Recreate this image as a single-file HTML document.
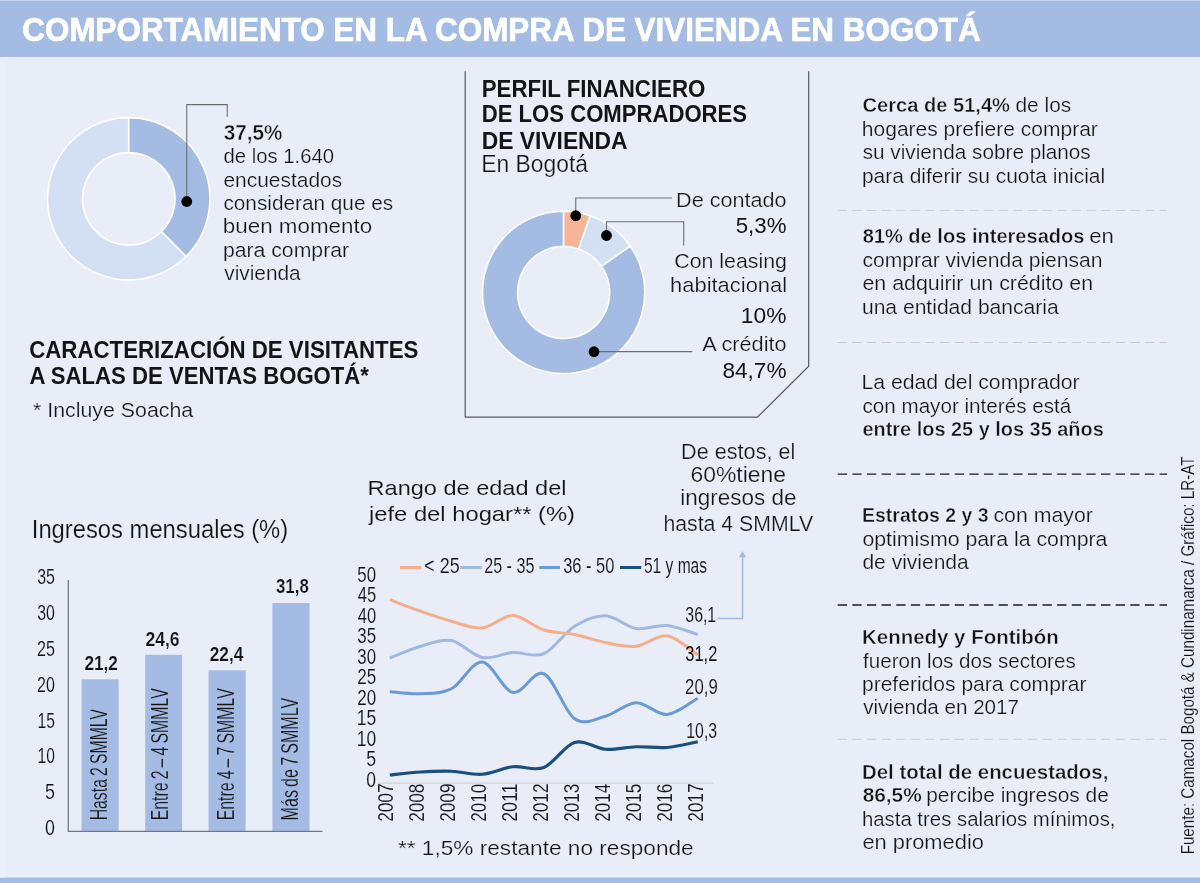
<!DOCTYPE html>
<html lang="es"><head><meta charset="utf-8"><title>Comportamiento en la compra de vivienda en Bogotá</title>
<style>
html,body{margin:0;padding:0;background:#e9edf8;}
body{width:1200px;height:883px;overflow:hidden;}
svg{display:block;will-change:transform;font-family:"Liberation Sans",sans-serif;}
text{white-space:pre;}
</style></head><body>
<svg width="1200" height="883" viewBox="0 0 1200 883">
<rect x="0" y="0" width="1200" height="883" fill="#e9edf8"/>
<rect x="0" y="0" width="1200" height="1" fill="#c5d4ee"/>
<rect x="0" y="1" width="1200" height="56" fill="#a4bce4"/>
<rect x="0" y="877.5" width="1200" height="6" fill="#a4bce4"/>
<rect x="0" y="57" width="1200" height="3" fill="#eeeef9"/>
<rect x="0" y="60" width="1200" height="2.5" fill="#e7eefb"/>
<rect x="0" y="62" width="5.5" height="815.5" fill="#ecf0fa"/>
<path d="M186.17,256.27 A81.2,81.2 0 1 1 128.75,117.65 L128.75,152.60 A46.25,46.25 0 1 0 161.45,231.55 Z" fill="#d3dff3" stroke="#ffffff" stroke-width="1.6" stroke-linejoin="round"/>
<path d="M128.75,117.65 A81.2,81.2 0 0 1 186.17,256.27 L161.45,231.55 A46.25,46.25 0 0 0 128.75,152.60 Z" fill="#a4bce4" stroke="#ffffff" stroke-width="1.6" stroke-linejoin="round"/>
<path d="M630.17,246.00 A81.15,81.15 0 1 1 563.63,211.30 L563.63,246.40 A46.05,46.05 0 1 0 601.39,266.09 Z" fill="#a4bce4" stroke="#ffffff" stroke-width="1.6" stroke-linejoin="round"/>
<path d="M563.63,211.30 A81.15,81.15 0 0 1 590.16,215.76 L578.68,248.93 A46.05,46.05 0 0 0 563.63,246.40 Z" fill="#f5b596" stroke="#ffffff" stroke-width="1.6" stroke-linejoin="round"/>
<path d="M590.16,215.76 A81.15,81.15 0 0 1 630.17,246.00 L601.39,266.09 A46.05,46.05 0 0 0 578.68,248.93 Z" fill="#d3dff3" stroke="#ffffff" stroke-width="1.6" stroke-linejoin="round"/>
<path d="M186.75,201.5 V104.6 H227.25 V116.75" fill="none" stroke="#6d6e70" stroke-width="1.1"/>
<circle cx="186.75" cy="201.5" r="5.4" fill="#000"/>
<path d="M575.75,215.75 V198 H672" fill="none" stroke="#6d6e70" stroke-width="1.1"/>
<circle cx="575.75" cy="215.75" r="5.4" fill="#000"/>
<path d="M606.5,235.5 V221.75 H683.75 V245.5" fill="none" stroke="#6d6e70" stroke-width="1.1"/>
<circle cx="606.5" cy="235.5" r="5.4" fill="#000"/>
<path d="M594,351.6 H692.3" fill="none" stroke="#6d6e70" stroke-width="1.1"/>
<circle cx="594" cy="351.75" r="5.4" fill="#000"/>
<path d="M465.2,71.2 V417.2 H757.4 L808.7,366.3 V71.2" fill="none" stroke="#58595b" stroke-width="1.2"/>
<rect x="81.5" y="679.3" width="37.10" height="151.70" fill="#a4bce4"/>
<rect x="145.2" y="654.8" width="36.90" height="176.20" fill="#a4bce4"/>
<rect x="208.5" y="670.3" width="37.10" height="160.70" fill="#a4bce4"/>
<rect x="272.4" y="603" width="37.10" height="228.00" fill="#a4bce4"/>
<path d="M68.3,580 V831.3 H322.5" fill="none" stroke="#77787b" stroke-width="1.3"/>
<path d="M377,783.3 H713.3" fill="none" stroke="#d9d9d9" stroke-width="1.4"/>
<path d="M389.80,658.00 C394.93,656.04 410.33,649.17 420.60,646.25 C430.87,643.33 441.13,638.62 451.40,640.50 C461.67,642.38 471.93,655.50 482.20,657.50 C492.47,659.50 502.73,653.12 513.00,652.50 C523.27,651.88 533.53,658.12 543.80,653.75 C554.07,649.38 564.33,632.58 574.60,626.25 C584.87,619.92 595.13,615.38 605.40,615.75 C615.67,616.12 625.93,626.88 636.20,628.50 C646.47,630.12 656.73,624.50 667.00,625.50 C677.27,626.50 692.67,633.00 697.80,634.50" fill="none" stroke="#9fb9e3" stroke-width="3.0" stroke-linecap="butt" stroke-linejoin="round"/>
<path d="M389.80,599.70 C394.93,601.62 410.33,607.66 420.60,611.25 C430.87,614.84 441.13,618.46 451.40,621.25 C461.67,624.04 471.93,628.96 482.20,628.00 C492.47,627.04 502.73,615.17 513.00,615.50 C523.27,615.83 533.53,626.83 543.80,630.00 C554.07,633.17 564.33,632.42 574.60,634.50 C584.87,636.58 595.13,640.54 605.40,642.50 C615.67,644.46 625.93,647.38 636.20,646.25 C646.47,645.12 656.73,634.29 667.00,635.75 C677.27,637.21 692.67,651.79 697.80,655.00" fill="none" stroke="#f4ae8b" stroke-width="3.0" stroke-linecap="butt" stroke-linejoin="round"/>
<path d="M389.80,691.75 C394.93,692.08 410.33,694.25 420.60,693.75 C430.87,693.25 441.13,694.04 451.40,688.75 C461.67,683.46 471.93,661.38 482.20,662.00 C492.47,662.62 502.73,690.54 513.00,692.50 C523.27,694.46 533.53,669.38 543.80,673.75 C554.07,678.12 564.33,711.67 574.60,718.75 C584.87,725.83 595.13,718.92 605.40,716.25 C615.67,713.58 625.93,703.04 636.20,702.75 C646.47,702.46 656.73,715.25 667.00,714.50 C677.27,713.75 692.67,700.96 697.80,698.25" fill="none" stroke="#6b9bd6" stroke-width="3.0" stroke-linecap="butt" stroke-linejoin="round"/>
<path d="M389.80,775.00 C394.93,774.50 410.33,772.62 420.60,772.00 C430.87,771.38 441.13,770.88 451.40,771.25 C461.67,771.62 471.93,775.00 482.20,774.25 C492.47,773.50 502.73,767.88 513.00,766.75 C523.27,765.62 533.53,771.54 543.80,767.50 C554.07,763.46 564.33,745.54 574.60,742.50 C584.87,739.46 595.13,748.54 605.40,749.25 C615.67,749.96 625.93,747.04 636.20,746.75 C646.47,746.46 656.73,748.33 667.00,747.50 C677.27,746.67 692.67,742.71 697.80,741.75" fill="none" stroke="#1b4f80" stroke-width="3.2" stroke-linecap="butt" stroke-linejoin="round"/>
<path d="M400,567.5 H421.2" stroke="#f4ae8b" stroke-width="3" fill="none"/>
<path d="M460.2,567.5 H481.7" stroke="#9fb9e3" stroke-width="3" fill="none"/>
<path d="M539.25,567.5 H560" stroke="#6b9bd6" stroke-width="3" fill="none"/>
<path d="M620,567.5 H641.25" stroke="#1b4f80" stroke-width="3" fill="none"/>
<path d="M717.5,618.6 H742.6 V556.5" fill="none" stroke="#9fb9e3" stroke-width="1.5"/>
<path d="M742.6,551.2 L746.2,557.2 H739 Z" fill="#9fb9e3"/>
<path d="M837.7,210.4 H1167" stroke="#c9ccd2" stroke-width="1.0" stroke-dasharray="9.3 5.33" fill="none"/>
<path d="M837.7,342.5 H1167" stroke="#c9ccd2" stroke-width="1.0" stroke-dasharray="9.3 5.33" fill="none"/>
<path d="M837.7,474.2 H1167" stroke="#1d1d1b" stroke-width="1.3" stroke-dasharray="9.3 5.33" fill="none"/>
<path d="M837.7,605 H1167" stroke="#1d1d1b" stroke-width="1.3" stroke-dasharray="9.3 5.33" fill="none"/>
<path d="M837.7,739.25 H1167" stroke="#c9ccd2" stroke-width="1.0" stroke-dasharray="9.3 5.33" fill="none"/>
<text x="22.27" y="40.60" font-size="33.6" font-weight="bold" fill="#ffffff" stroke="#ffffff" stroke-width="0.7" stroke-linejoin="round" textLength="958.32" lengthAdjust="spacingAndGlyphs">COMPORTAMIENTO EN LA COMPRA DE VIVIENDA EN BOGOTÁ</text>
<text x="223.87" y="140.30" font-size="21.6" font-weight="bold" fill="#141414" stroke="#e9edf8" stroke-width="0.4" textLength="58.62" lengthAdjust="spacingAndGlyphs">37,5%</text>
<text x="223.47" y="163.25" font-size="20.8" fill="#141414" stroke="#e9edf8" stroke-width="0.22" textLength="110.53" lengthAdjust="spacingAndGlyphs">de los 1.640</text>
<text x="223.44" y="186.50" font-size="20.8" fill="#141414" stroke="#e9edf8" stroke-width="0.22" textLength="118.76" lengthAdjust="spacingAndGlyphs">encuestados</text>
<text x="223.45" y="210.00" font-size="20.8" fill="#141414" stroke="#e9edf8" stroke-width="0.22" textLength="169.75" lengthAdjust="spacingAndGlyphs">consideran que es</text>
<text x="222.85" y="233.25" font-size="20.8" fill="#141414" stroke="#e9edf8" stroke-width="0.22" textLength="149.33" lengthAdjust="spacingAndGlyphs">buen momento</text>
<text x="222.92" y="256.50" font-size="20.8" fill="#141414" stroke="#e9edf8" stroke-width="0.22" textLength="126.16" lengthAdjust="spacingAndGlyphs">para comprar</text>
<text x="224.25" y="280.00" font-size="20.8" fill="#141414" stroke="#e9edf8" stroke-width="0.22" textLength="76.47" lengthAdjust="spacingAndGlyphs">vivienda</text>
<text x="481.72" y="96.50" font-size="24" font-weight="bold" fill="#141414" textLength="223.68" lengthAdjust="spacingAndGlyphs">PERFIL FINANCIERO</text>
<text x="481.73" y="122.40" font-size="24" font-weight="bold" fill="#141414" textLength="265.36" lengthAdjust="spacingAndGlyphs">DE LOS COMPRADORES</text>
<text x="481.68" y="148.50" font-size="24" font-weight="bold" fill="#141414" textLength="145.92" lengthAdjust="spacingAndGlyphs">DE VIVIENDA</text>
<text x="481.35" y="172.30" font-size="23.5" fill="#141414" stroke="#e9edf8" stroke-width="0.22" textLength="106.62" lengthAdjust="spacingAndGlyphs">En Bogotá</text>
<text x="676.03" y="206.50" font-size="20.8" fill="#141414" stroke="#e9edf8" stroke-width="0.22" textLength="110.57" lengthAdjust="spacingAndGlyphs">De contado</text>
<text x="735.71" y="233.20" font-size="22.6" fill="#141414" textLength="50.77" lengthAdjust="spacingAndGlyphs">5,3%</text>
<text x="674.27" y="268.00" font-size="20.8" fill="#141414" stroke="#e9edf8" stroke-width="0.22" textLength="112.73" lengthAdjust="spacingAndGlyphs">Con leasing</text>
<text x="670.12" y="291.60" font-size="20.8" fill="#141414" stroke="#e9edf8" stroke-width="0.22" textLength="116.97" lengthAdjust="spacingAndGlyphs">habitacional</text>
<text x="740.89" y="322.70" font-size="22.6" fill="#141414" textLength="45.62" lengthAdjust="spacingAndGlyphs">10%</text>
<text x="702.20" y="351.40" font-size="20.8" fill="#141414" stroke="#e9edf8" stroke-width="0.22" textLength="84.39" lengthAdjust="spacingAndGlyphs">A crédito</text>
<text x="722.50" y="378.30" font-size="22.6" fill="#141414" textLength="63.99" lengthAdjust="spacingAndGlyphs">84,7%</text>
<text x="29.17" y="357.70" font-size="24" font-weight="bold" fill="#141414" textLength="389.18" lengthAdjust="spacingAndGlyphs">CARACTERIZACIÓN DE VISITANTES</text>
<text x="29.54" y="383.60" font-size="24" font-weight="bold" fill="#141414" textLength="339.40" lengthAdjust="spacingAndGlyphs">A SALAS DE VENTAS BOGOTÁ*</text>
<text x="32.99" y="416.50" font-size="21" fill="#141414" stroke="#e9edf8" stroke-width="0.22" textLength="160.23" lengthAdjust="spacingAndGlyphs">* Incluye Soacha</text>
<text x="31.81" y="537.90" font-size="25" fill="#141414" stroke="#e9edf8" stroke-width="0.15" textLength="256.34" lengthAdjust="spacingAndGlyphs">Ingresos mensuales (%)</text>
<text x="37.21" y="583.80" font-size="21.5" fill="#141414" stroke="#e9edf8" stroke-width="0.1" textLength="17.73" lengthAdjust="spacingAndGlyphs">35</text>
<text x="37.21" y="619.90" font-size="21.5" fill="#141414" stroke="#e9edf8" stroke-width="0.1" textLength="17.65" lengthAdjust="spacingAndGlyphs">30</text>
<text x="37.05" y="655.90" font-size="21.5" fill="#141414" stroke="#e9edf8" stroke-width="0.1" textLength="17.89" lengthAdjust="spacingAndGlyphs">25</text>
<text x="37.06" y="691.90" font-size="21.5" fill="#141414" stroke="#e9edf8" stroke-width="0.1" textLength="17.81" lengthAdjust="spacingAndGlyphs">20</text>
<text x="37.54" y="727.75" font-size="21.5" fill="#141414" stroke="#e9edf8" stroke-width="0.1" textLength="17.39" lengthAdjust="spacingAndGlyphs">15</text>
<text x="37.54" y="763.10" font-size="21.5" fill="#141414" stroke="#e9edf8" stroke-width="0.1" textLength="17.31" lengthAdjust="spacingAndGlyphs">10</text>
<text x="45.03" y="798.60" font-size="21.5" fill="#141414" stroke="#e9edf8" stroke-width="0.1" textLength="9.98" lengthAdjust="spacingAndGlyphs">5</text>
<text x="45.04" y="834.50" font-size="21.5" fill="#141414" stroke="#e9edf8" stroke-width="0.1" textLength="9.89" lengthAdjust="spacingAndGlyphs">0</text>
<text x="84.42" y="669.70" font-size="20.8" font-weight="bold" fill="#141414" stroke="#e9edf8" stroke-width="0.2" textLength="33.52" lengthAdjust="spacingAndGlyphs">21,2</text>
<text x="145.41" y="645.60" font-size="20.8" font-weight="bold" fill="#141414" stroke="#e9edf8" stroke-width="0.2" textLength="34.15" lengthAdjust="spacingAndGlyphs">24,6</text>
<text x="209.72" y="660.80" font-size="20.8" font-weight="bold" fill="#141414" stroke="#e9edf8" stroke-width="0.2" textLength="33.74" lengthAdjust="spacingAndGlyphs">22,4</text>
<text x="275.98" y="593.30" font-size="20.8" font-weight="bold" fill="#141414" stroke="#e9edf8" stroke-width="0.2" textLength="32.78" lengthAdjust="spacingAndGlyphs">31,8</text>
<text transform="translate(107.40 819.10) rotate(-90)" x="-1.27" y="0" font-size="23.7" word-spacing="-2" fill="#141414" stroke="#a4bce4" stroke-width="0.2" textLength="111.37" lengthAdjust="spacingAndGlyphs">Hasta 2 SMMLV</text>
<text transform="translate(167.60 819.10) rotate(-90)" x="-1.27" y="0" font-size="23.7" word-spacing="-2" fill="#141414" stroke="#a4bce4" stroke-width="0.2" textLength="132.18" lengthAdjust="spacingAndGlyphs">Entre 2 – 4 SMMLV</text>
<text transform="translate(233.60 819.10) rotate(-90)" x="-1.27" y="0" font-size="23.7" word-spacing="-2" fill="#141414" stroke="#a4bce4" stroke-width="0.2" textLength="132.18" lengthAdjust="spacingAndGlyphs">Entre 4 – 7 SMMLV</text>
<text transform="translate(298.30 819.10) rotate(-90)" x="-1.29" y="0" font-size="23.7" word-spacing="-2" fill="#141414" stroke="#a4bce4" stroke-width="0.2" textLength="122.60" lengthAdjust="spacingAndGlyphs">Más de 7 SMMLV</text>
<text x="367.59" y="494.75" font-size="21" fill="#141414" stroke="#e9edf8" stroke-width="0.1" textLength="198.94" lengthAdjust="spacingAndGlyphs">Rango de edad del</text>
<text x="368.98" y="520.60" font-size="21" fill="#141414" stroke="#e9edf8" stroke-width="0.1" textLength="206.08" lengthAdjust="spacingAndGlyphs">jefe del hogar** (%)</text>
<text x="357.37" y="581.60" font-size="21.5" fill="#141414" stroke="#e9edf8" stroke-width="0.1" textLength="18.72" lengthAdjust="spacingAndGlyphs">50</text>
<text x="357.69" y="602.10" font-size="21.5" fill="#141414" stroke="#e9edf8" stroke-width="0.1" textLength="18.47" lengthAdjust="spacingAndGlyphs">45</text>
<text x="357.69" y="622.60" font-size="21.5" fill="#141414" stroke="#e9edf8" stroke-width="0.1" textLength="18.39" lengthAdjust="spacingAndGlyphs">40</text>
<text x="357.37" y="643.10" font-size="21.5" fill="#141414" stroke="#e9edf8" stroke-width="0.1" textLength="18.80" lengthAdjust="spacingAndGlyphs">35</text>
<text x="357.37" y="663.60" font-size="21.5" fill="#141414" stroke="#e9edf8" stroke-width="0.1" textLength="18.72" lengthAdjust="spacingAndGlyphs">30</text>
<text x="357.21" y="684.10" font-size="21.5" fill="#141414" stroke="#e9edf8" stroke-width="0.1" textLength="18.97" lengthAdjust="spacingAndGlyphs">25</text>
<text x="357.21" y="704.60" font-size="21.5" fill="#141414" stroke="#e9edf8" stroke-width="0.1" textLength="18.89" lengthAdjust="spacingAndGlyphs">20</text>
<text x="356.70" y="725.10" font-size="21.5" fill="#141414" stroke="#e9edf8" stroke-width="0.1" textLength="19.50" lengthAdjust="spacingAndGlyphs">15</text>
<text x="356.70" y="745.60" font-size="21.5" fill="#141414" stroke="#e9edf8" stroke-width="0.1" textLength="19.41" lengthAdjust="spacingAndGlyphs">10</text>
<text x="366.34" y="766.10" font-size="21.5" fill="#141414" stroke="#e9edf8" stroke-width="0.1" textLength="9.87" lengthAdjust="spacingAndGlyphs">5</text>
<text x="366.35" y="786.60" font-size="21.5" fill="#141414" stroke="#e9edf8" stroke-width="0.1" textLength="9.77" lengthAdjust="spacingAndGlyphs">0</text>
<text x="424.32" y="572.50" font-size="22.3" fill="#141414" stroke="#e9edf8" stroke-width="0.1" textLength="35.41" lengthAdjust="spacingAndGlyphs">&lt; 25</text>
<text x="484.20" y="572.50" font-size="22.3" fill="#141414" stroke="#e9edf8" stroke-width="0.1" textLength="50.20" lengthAdjust="spacingAndGlyphs">25 - 35</text>
<text x="563.16" y="572.50" font-size="22.3" fill="#141414" stroke="#e9edf8" stroke-width="0.1" textLength="51.18" lengthAdjust="spacingAndGlyphs">36 - 50</text>
<text x="643.94" y="572.50" font-size="22.3" fill="#141414" stroke="#e9edf8" stroke-width="0.1" textLength="63.08" lengthAdjust="spacingAndGlyphs">51 y mas</text>
<text x="685.31" y="622.30" font-size="21.5" fill="#141414" stroke="#e9edf8" stroke-width="0.1" textLength="30.90" lengthAdjust="spacingAndGlyphs">36,1</text>
<text x="685.29" y="660.75" font-size="21.5" fill="#141414" textLength="32.02" lengthAdjust="spacingAndGlyphs">31,2</text>
<text x="685.12" y="693.75" font-size="21.5" fill="#141414" stroke="#e9edf8" stroke-width="0.1" textLength="32.63" lengthAdjust="spacingAndGlyphs">20,9</text>
<text x="686.32" y="738.00" font-size="21.5" fill="#141414" stroke="#e9edf8" stroke-width="0.1" textLength="30.81" lengthAdjust="spacingAndGlyphs">10,3</text>
<text transform="translate(393.40 821.00) rotate(-90)" x="-0.80" y="0" font-size="21.5" fill="#141414" stroke="#e9edf8" stroke-width="0.1" textLength="38.35" lengthAdjust="spacingAndGlyphs">2007</text>
<text transform="translate(424.33 821.00) rotate(-90)" x="-0.80" y="0" font-size="21.5" fill="#141414" stroke="#e9edf8" stroke-width="0.1" textLength="38.18" lengthAdjust="spacingAndGlyphs">2008</text>
<text transform="translate(455.26 821.00) rotate(-90)" x="-0.80" y="0" font-size="21.5" fill="#141414" stroke="#e9edf8" stroke-width="0.1" textLength="38.27" lengthAdjust="spacingAndGlyphs">2009</text>
<text transform="translate(486.19 821.00) rotate(-90)" x="-0.80" y="0" font-size="21.5" fill="#141414" stroke="#e9edf8" stroke-width="0.1" textLength="38.10" lengthAdjust="spacingAndGlyphs">2010</text>
<text transform="translate(517.12 821.00) rotate(-90)" x="-0.83" y="0" font-size="21.5" fill="#141414" stroke="#e9edf8" stroke-width="0.1" textLength="38.32" lengthAdjust="spacingAndGlyphs">2011</text>
<text transform="translate(548.05 821.00) rotate(-90)" x="-0.80" y="0" font-size="21.5" fill="#141414" stroke="#e9edf8" stroke-width="0.1" textLength="38.35" lengthAdjust="spacingAndGlyphs">2012</text>
<text transform="translate(578.98 821.00) rotate(-90)" x="-0.80" y="0" font-size="21.5" fill="#141414" stroke="#e9edf8" stroke-width="0.1" textLength="38.18" lengthAdjust="spacingAndGlyphs">2013</text>
<text transform="translate(609.91 821.00) rotate(-90)" x="-0.79" y="0" font-size="21.5" fill="#141414" stroke="#e9edf8" stroke-width="0.1" textLength="37.94" lengthAdjust="spacingAndGlyphs">2014</text>
<text transform="translate(640.84 821.00) rotate(-90)" x="-0.80" y="0" font-size="21.5" fill="#141414" stroke="#e9edf8" stroke-width="0.1" textLength="38.18" lengthAdjust="spacingAndGlyphs">2015</text>
<text transform="translate(671.77 821.00) rotate(-90)" x="-0.80" y="0" font-size="21.5" fill="#141414" stroke="#e9edf8" stroke-width="0.1" textLength="38.18" lengthAdjust="spacingAndGlyphs">2016</text>
<text transform="translate(702.70 821.00) rotate(-90)" x="-0.80" y="0" font-size="21.5" fill="#141414" stroke="#e9edf8" stroke-width="0.1" textLength="38.35" lengthAdjust="spacingAndGlyphs">2017</text>
<text x="397.97" y="855.00" font-size="20.8" fill="#141414" stroke="#e9edf8" stroke-width="0.22" textLength="295.67" lengthAdjust="spacingAndGlyphs">** 1,5% restante no responde</text>
<text x="681.11" y="458.60" font-size="21.7" fill="#141414" stroke="#e9edf8" stroke-width="0.22" textLength="114.21" lengthAdjust="spacingAndGlyphs">De estos, el</text>
<text x="690.44" y="481.80" font-size="21.7" fill="#141414" stroke="#e9edf8" stroke-width="0.22" textLength="95.68" lengthAdjust="spacingAndGlyphs">60%tiene</text>
<text x="680.35" y="505.20" font-size="21.7" fill="#141414" stroke="#e9edf8" stroke-width="0.22" textLength="116.25" lengthAdjust="spacingAndGlyphs">ingresos de</text>
<text x="663.43" y="530.80" font-size="21.7" fill="#141414" stroke="#e9edf8" stroke-width="0.22" textLength="149.74" lengthAdjust="spacingAndGlyphs">hasta 4 SMMLV</text>
<text x="862.48" y="112.00" font-size="20.8" font-weight="bold" fill="#141414" stroke="#e9edf8" stroke-width="0.4" textLength="147.50" lengthAdjust="spacingAndGlyphs">Cerca de 51,4%</text>
<text x="1015.45" y="112.00" font-size="20.8" fill="#141414" stroke="#e9edf8" stroke-width="0.22" textLength="55.76" lengthAdjust="spacingAndGlyphs">de los</text>
<text x="861.84" y="135.50" font-size="20.8" fill="#141414" stroke="#e9edf8" stroke-width="0.22" textLength="235.99" lengthAdjust="spacingAndGlyphs">hogares prefiere comprar</text>
<text x="862.75" y="159.25" font-size="20.8" fill="#141414" stroke="#e9edf8" stroke-width="0.22" textLength="227.94" lengthAdjust="spacingAndGlyphs">su vivienda sobre planos</text>
<text x="861.94" y="182.50" font-size="20.8" fill="#141414" stroke="#e9edf8" stroke-width="0.22" textLength="243.14" lengthAdjust="spacingAndGlyphs">para diferir su cuota inicial</text>
<text x="862.67" y="243.00" font-size="20.8" font-weight="bold" fill="#141414" stroke="#e9edf8" stroke-width="0.4" textLength="221.82" lengthAdjust="spacingAndGlyphs">81% de los interesados</text>
<text x="1089.15" y="243.00" font-size="20.8" fill="#141414" stroke="#e9edf8" stroke-width="0.22" textLength="24.71" lengthAdjust="spacingAndGlyphs">en</text>
<text x="862.44" y="266.50" font-size="20.8" fill="#141414" stroke="#e9edf8" stroke-width="0.22" textLength="240.09" lengthAdjust="spacingAndGlyphs">comprar vivienda piensan</text>
<text x="862.43" y="290.00" font-size="20.8" fill="#141414" stroke="#e9edf8" stroke-width="0.22" textLength="230.63" lengthAdjust="spacingAndGlyphs">en adquirir un crédito en</text>
<text x="861.93" y="313.75" font-size="20.8" fill="#141414" stroke="#e9edf8" stroke-width="0.22" textLength="196.78" lengthAdjust="spacingAndGlyphs">una entidad bancaria</text>
<text x="861.52" y="389.25" font-size="20.8" fill="#141414" stroke="#e9edf8" stroke-width="0.22" textLength="218.07" lengthAdjust="spacingAndGlyphs">La edad del comprador</text>
<text x="862.46" y="412.50" font-size="20.8" fill="#141414" stroke="#e9edf8" stroke-width="0.22" textLength="208.76" lengthAdjust="spacingAndGlyphs">con mayor interés está</text>
<text x="862.48" y="435.50" font-size="20.8" font-weight="bold" fill="#141414" stroke="#e9edf8" stroke-width="0.4" textLength="241.25" lengthAdjust="spacingAndGlyphs">entre los 25 y los 35 años</text>
<text x="862.03" y="522.00" font-size="20.8" font-weight="bold" fill="#141414" stroke="#e9edf8" stroke-width="0.4" textLength="126.59" lengthAdjust="spacingAndGlyphs">Estratos 2 y 3</text>
<text x="993.43" y="522.00" font-size="20.8" fill="#141414" stroke="#e9edf8" stroke-width="0.22" textLength="99.40" lengthAdjust="spacingAndGlyphs">con mayor</text>
<text x="862.43" y="545.75" font-size="20.8" fill="#141414" stroke="#e9edf8" stroke-width="0.22" textLength="245.04" lengthAdjust="spacingAndGlyphs">optimismo para la compra</text>
<text x="862.44" y="569.25" font-size="20.8" fill="#141414" stroke="#e9edf8" stroke-width="0.22" textLength="106.28" lengthAdjust="spacingAndGlyphs">de vivienda</text>
<text x="861.97" y="644.25" font-size="20.8" font-weight="bold" fill="#141414" stroke="#e9edf8" stroke-width="0.4" textLength="196.72" lengthAdjust="spacingAndGlyphs">Kennedy y Fontibón</text>
<text x="863.05" y="667.50" font-size="20.8" fill="#141414" stroke="#e9edf8" stroke-width="0.22" textLength="212.64" lengthAdjust="spacingAndGlyphs">fueron los dos sectores</text>
<text x="861.93" y="690.50" font-size="20.8" fill="#141414" stroke="#e9edf8" stroke-width="0.22" textLength="224.65" lengthAdjust="spacingAndGlyphs">preferidos para comprar</text>
<text x="863.25" y="713.50" font-size="20.8" fill="#141414" stroke="#e9edf8" stroke-width="0.22" textLength="155.71" lengthAdjust="spacingAndGlyphs">vivienda en 2017</text>
<text x="861.97" y="779.25" font-size="20.8" font-weight="bold" fill="#141414" stroke="#e9edf8" stroke-width="0.4" textLength="246.38" lengthAdjust="spacingAndGlyphs">Del total de encuestados,</text>
<text x="862.65" y="802.25" font-size="20.8" font-weight="bold" fill="#141414" stroke="#e9edf8" stroke-width="0.4" textLength="59.10" lengthAdjust="spacingAndGlyphs">86,5%</text>
<text x="926.19" y="802.25" font-size="20.8" fill="#141414" stroke="#e9edf8" stroke-width="0.22" textLength="182.68" lengthAdjust="spacingAndGlyphs">percibe ingresos de</text>
<text x="861.88" y="825.50" font-size="20.8" fill="#141414" stroke="#e9edf8" stroke-width="0.22" textLength="253.61" lengthAdjust="spacingAndGlyphs">hasta tres salarios mínimos,</text>
<text x="862.41" y="848.50" font-size="20.8" fill="#141414" stroke="#e9edf8" stroke-width="0.22" textLength="121.50" lengthAdjust="spacingAndGlyphs">en promedio</text>
<text transform="translate(1193.60 853.20) rotate(-90)" x="-1.18" y="0" font-size="18" fill="#141414" stroke="#e9edf8" stroke-width="0.12" textLength="397.91" lengthAdjust="spacingAndGlyphs">Fuente: Camacol Bogotá &amp; Cundinamarca / Gráfico: LR-AT</text>
</svg>
</body></html>
